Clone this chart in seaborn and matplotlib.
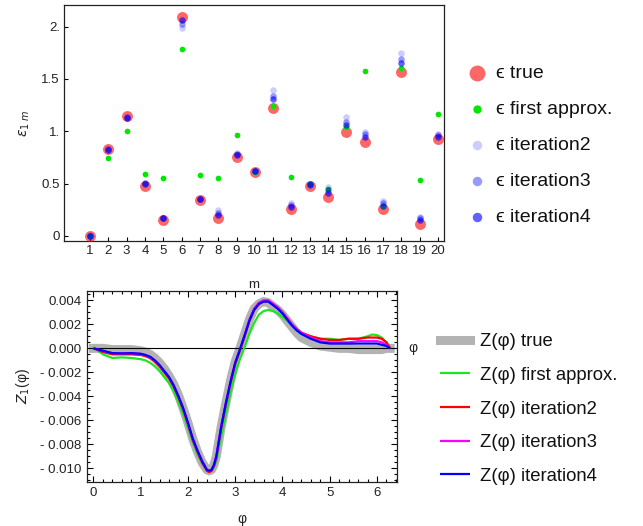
import numpy as np
import pandas as pd
import matplotlib
matplotlib.use("Agg")
import matplotlib.pyplot as plt
import matplotlib.transforms as mtransforms
from matplotlib.ticker import FixedLocator, MultipleLocator, FixedFormatter
import seaborn as sns

# ---------------- data: top panel ----------------
m = list(range(1, 21))
eps_true = [0.0, 0.83, 1.146, 0.478, 0.153, 2.095, 0.341, 0.169, 0.755, 0.611,
            1.22, 0.255, 0.478, 0.372, 0.996, 0.895, 0.255, 1.566, 0.118, 0.926]
eps_first = [0.0, 0.745, 1.0, 0.595, 0.551, 1.783, 0.58, 0.551, 0.965, 0.608,
             1.242, 0.561, 0.494, 0.452, 1.038, 1.576, 0.29, 1.605, 0.532, 1.162]
eps_iter2 = [0.005, 0.835, 1.14, 0.51, 0.175, 1.99, 0.35, 0.248, 0.79, 0.62,
             1.394, 0.312, 0.49, 0.465, 1.14, 0.996, 0.334, 1.75, 0.184, 0.971]
eps_iter3 = [0.0, 0.83, 1.135, 0.505, 0.17, 2.025, 0.35, 0.223, 0.78, 0.62,
             1.34, 0.296, 0.49, 0.44, 1.086, 0.971, 0.312, 1.687, 0.169, 0.96]
eps_iter4 = [0.0, 0.825, 1.127, 0.50, 0.169, 2.063, 0.353, 0.20, 0.774, 0.621,
             1.306, 0.28, 0.494, 0.414, 1.057, 0.946, 0.29, 1.65, 0.15, 0.949]
top_yticks = [0, 0.5, 1.0, 1.5, 2.0]
top_yticklabels = ["0", "0.5", "1.", "1.5", "2."]

# ---------------- data: bottom panel ----------------
phi = [0.0, 0.2, 0.4, 0.6, 0.8, 1.0,
       1.1, 1.2, 1.3, 1.4, 1.5, 1.6, 1.7, 1.8, 1.9, 2.0, 2.1, 2.2, 2.3, 2.4,
       2.45, 2.5, 2.55, 2.6,
       2.7, 2.8, 2.9, 3.0, 3.1, 3.2, 3.3, 3.4, 3.5, 3.6, 3.7, 3.8, 3.9, 4.0,
       4.1, 4.2, 4.3, 4.4,
       4.6, 4.8, 5.0, 5.2, 5.4, 5.6, 5.8,
       5.9, 6.0, 6.1, 6.2, 6.28]
z_true = [0.0, 0.0, -0.0001, -0.0001, -0.0001, -0.0002,
          -0.0003, -0.0005, -0.0008, -0.0012, -0.0017, -0.0023, -0.0030, -0.0039,
          -0.0050, -0.0062, -0.0075, -0.0086, -0.0095, -0.0101,
          -0.0102, -0.0101, -0.0097, -0.0090,
          -0.0066, -0.0046, -0.0027, -0.0011, 0.0000, 0.0012, 0.0024, 0.0033,
          0.0037, 0.0039, 0.0038, 0.0035, 0.0032, 0.0028, 0.0023, 0.0018, 0.0013,
          0.0009,
          0.0005, 0.0002, 0.0001, 0.0, 0.0, -0.0001, -0.0001,
          -0.0001, -0.0001, -0.0001, 0.0, 0.0]
z_first = [0.0001, -0.0005, -0.0008, -0.00075, -0.0008, -0.0009,
           -0.0010, -0.0012, -0.0015, -0.0019, -0.0024, -0.0029, -0.0036, -0.0045,
           -0.0055, -0.0066, -0.0078, -0.0088, -0.0096, -0.0101,
           -0.0102, -0.0102, -0.0099, -0.0094,
           -0.0074, -0.0055, -0.0037, -0.0021, -0.0009, 0.0001, 0.0012, 0.0021,
           0.0028, 0.0031, 0.0032, 0.0031, 0.0029, 0.0026, 0.0023, 0.0019, 0.0016,
           0.0013,
           0.0010, 0.0008, 0.0008, 0.0007, 0.0008, 0.0008, 0.0010,
           0.00115, 0.0011, 0.0009, 0.0005, 0.0]
z_iter2 = [0.0, -0.0003, -0.0005, -0.0005, -0.0005, -0.00055,
           -0.00065, -0.0008, -0.0011, -0.0015, -0.0020, -0.0025, -0.0032, -0.0041,
           -0.0051, -0.0063, -0.0076, -0.0086, -0.0095, -0.0102,
           -0.0103, -0.0102, -0.0098, -0.0091,
           -0.0067, -0.0047, -0.0029, -0.0013, -0.0002, 0.0010, 0.0023, 0.0032,
           0.0037, 0.0039, 0.0039, 0.0037, 0.0034, 0.0030, 0.0025, 0.0020, 0.0016,
           0.0013,
           0.0010, 0.0008, 0.0007, 0.0007, 0.0008, 0.0008, 0.0009,
           0.0009, 0.0009, 0.0008, 0.0005, 0.0]
z_iter3 = [0.0, -0.0002, -0.0004, -0.00042, -0.0004, -0.00047,
           -0.00057, -0.00072, -0.00102, -0.00142, -0.0019, -0.0024, -0.0031,
           -0.0040, -0.0050, -0.0062, -0.0075, -0.0085, -0.0094, -0.0101,
           -0.0102, -0.0101, -0.0097, -0.0090,
           -0.0066, -0.0046, -0.0028, -0.0012, -0.0001, 0.0011, 0.0024, 0.0033,
           0.0038, 0.0040, 0.0040, 0.0037, 0.0034, 0.0030, 0.0025, 0.0020, 0.0016,
           0.0013,
           0.0009, 0.0006, 0.0005, 0.0005, 0.0005, 0.0006, 0.0006,
           0.0006, 0.0006, 0.0005, 0.0003, 0.0]
z_iter4 = [0.0, -0.0002, -0.0004, -0.00042, -0.0004, -0.00045,
           -0.00055, -0.0007, -0.0010, -0.0014, -0.0019, -0.0024, -0.0031, -0.0040,
           -0.0050, -0.0062, -0.0075, -0.0085, -0.0094, -0.0101,
           -0.0102, -0.0101, -0.0097, -0.0090,
           -0.0066, -0.0046, -0.0028, -0.0012, -0.0001, 0.0011, 0.0023, 0.0032,
           0.0037, 0.0039, 0.0039, 0.0036, 0.0033, 0.0029, 0.0024, 0.0019, 0.0015,
           0.0012,
           0.0008, 0.0005, 0.0004, 0.0004, 0.0004, 0.0004, 0.0004,
           0.0004, 0.0004, 0.0003, 0.0002, 0.0]
bot_yticks = [0.004, 0.002, 0.0, -0.002, -0.004, -0.006, -0.008, -0.010]
bot_yticklabels = ["0.004", "0.002", "0.000", "- 0.002", "- 0.004", "- 0.006",
                   "- 0.008", "- 0.010"]

# ---------------- style ----------------
sns.set_theme(style="white")
plt.rcParams["font.family"] = ["Liberation Sans", "DejaVu Sans"]
plt.rcParams["mathtext.fontset"] = "dejavusans"

fig = plt.figure(figsize=(6.43, 5.26), dpi=100)
fig.patch.set_facecolor("white")

# ---------------- top panel ----------------
ax1 = fig.add_axes([64 / 643, 1 - 240.7 / 526, 380 / 643, 235.7 / 526])
top_series = [
    ("ϵ true", eps_true, "#ff0000", 0.6, 62),
    ("ϵ first approx.", eps_first, "#00e800", 1.0, 17),
    ("ϵ iteration2", eps_iter2, "#0000ff", 0.2, 22),
    ("ϵ iteration3", eps_iter3, "#0000ff", 0.4, 22),
    ("ϵ iteration4", eps_iter4, "#0000ff", 0.62, 22),
]
for i, (lab, vals, col, a, s) in enumerate(top_series):
    df = pd.DataFrame({"m": m, "eps": vals})
    sns.scatterplot(data=df, x="m", y="eps", ax=ax1, color=col, alpha=a, s=s,
                    linewidth=0, label=lab, zorder=3 + i)
ax1.set_xlim(-0.42, 20.33)
ax1.set_ylim(-0.045, 2.206)
ax1.xaxis.set_major_locator(FixedLocator(m))
ax1.yaxis.set_major_locator(FixedLocator(top_yticks))
ax1.yaxis.set_major_formatter(FixedFormatter(top_yticklabels))
ax1.tick_params(axis="both", which="major", direction="in", length=3, width=0.8,
                labelsize=9.5, color="black", labelcolor="#222222", pad=3,
                bottom=True, left=True, top=False, right=False)
for sp in ax1.spines.values():
    sp.set_color("#222222")
    sp.set_linewidth(0.9)
ax1.set_xlabel("m", fontsize=9.5, labelpad=16, color="#222222")
ax1.set_ylabel(r"$\epsilon_{1\ m}$", fontsize=10, labelpad=7, color="#222222")
leg1 = ax1.legend(loc="center left", bbox_to_anchor=(468 / 643, 1 - 145 / 526),
                  bbox_transform=fig.transFigure, frameon=False, fontsize=14,
                  markerscale=1.45, handlelength=0.93, handletextpad=0.5,
                  labelspacing=0.95, borderpad=0, borderaxespad=0)
for t in leg1.get_texts():
    t.set_color("#111111")

# ---------------- bottom panel ----------------
ax2 = fig.add_axes([87.3 / 643, 1 - 481.7 / 526, 310 / 643, 191 / 526])
ax2.axhline(0, color="black", lw=0.8, zorder=1.5)
bot_series = [
    ("Z(φ) true", z_true, "#b3b3b3", 6.5, 1),
    ("Z(φ) first approx.", z_first, "#1ee61e", 1.6, 2),
    ("Z(φ) iteration2", z_iter2, "#ff0000", 1.6, 3),
    ("Z(φ) iteration3", z_iter3, "#ff00ff", 1.6, 4),
    ("Z(φ) iteration4", z_iter4, "#0000ff", 1.6, 5),
]
for lab, vals, col, lw, z in bot_series:
    df = pd.DataFrame({"phi": phi, "z": vals})
    sns.lineplot(data=df, x="phi", y="z", ax=ax2, color=col, lw=lw, label=lab,
                 zorder=z, solid_capstyle="butt" if lw < 3 else "projecting",
                 solid_joinstyle="round")
ax2.set_xlim(-0.13, 6.43)
ax2.set_ylim(-0.0111, 0.0048)
ax2.xaxis.set_major_locator(MultipleLocator(1))
ax2.xaxis.set_minor_locator(MultipleLocator(0.2))
ax2.yaxis.set_major_locator(FixedLocator(bot_yticks))
ax2.yaxis.set_major_formatter(FixedFormatter(bot_yticklabels))
ax2.yaxis.set_minor_locator(MultipleLocator(0.0005))
ax2.tick_params(axis="both", which="both", direction="in", top=True, right=True,
                bottom=True, left=True, color="black", width=0.8)
ax2.tick_params(axis="both", which="major", length=4, labelsize=9.5,
                labelcolor="#222222", pad=4)
ax2.tick_params(axis="both", which="minor", length=2)
for sp in ax2.spines.values():
    sp.set_color("#222222")
    sp.set_linewidth(0.9)
ax2.set_xlabel("φ", fontsize=10, labelpad=9, color="#222222")
ax2.set_ylabel(r"$Z_1$(φ)", fontsize=10, labelpad=6, color="#222222")
trans = mtransforms.blended_transform_factory(ax2.transAxes, ax2.transData)
ax2.text(1.05, 0, "φ", transform=trans, fontsize=10, va="center", ha="center",
         color="#222222")
leg2 = ax2.legend(loc="center left", bbox_to_anchor=(440 / 643, 1 - 409 / 526),
                  bbox_transform=fig.transFigure, frameon=False, fontsize=13.3,
                  handlelength=1.6, handletextpad=0.55, labelspacing=0.9,
                  borderpad=0, borderaxespad=0)
for t in leg2.get_texts():
    t.set_color("#111111")

fig.savefig("out.png", dpi=100, facecolor="white")
